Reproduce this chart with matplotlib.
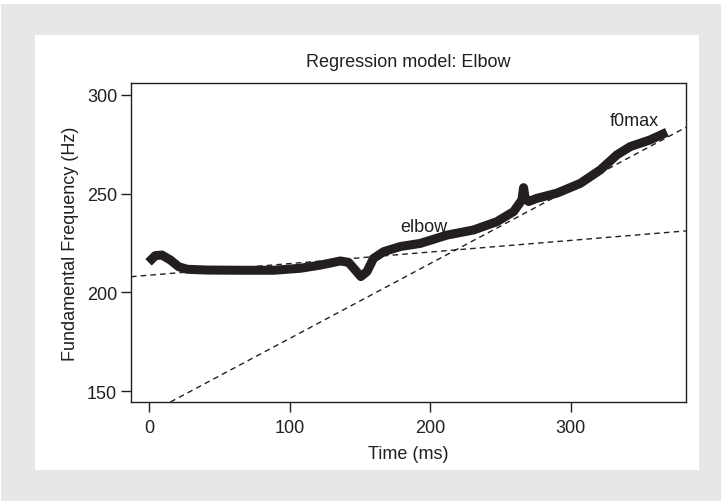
import numpy as np
import matplotlib
matplotlib.use("Agg")
import matplotlib.pyplot as plt
from matplotlib.patches import Rectangle

# f0 contour (ms, Hz)
time_ms = [-0.5, 4.3, 9, 15, 20.9, 26.8, 41, 64.8, 88.5, 107.5, 121.7, 136,
           141.8, 146.6, 150.6, 154.9, 159.6, 166.8, 178.6, 192.9, 211.9,
           230.8, 247.4, 259.3, 265.2, 266.4, 267.5, 270, 275.8, 290, 306.8,
           321, 332.8, 342.3, 356.5, 368.4]
f0_hz = [215.2, 218.6, 218.9, 216.4, 213, 211.7, 211.3, 211.2, 211.2, 212.2,
         213.8, 215.9, 215.2, 211.3, 208, 210.5, 217.2, 220.6, 223.2, 224.8,
         229, 231.6, 235.8, 240.9, 246.8, 253, 248, 246, 247.6, 250.2, 255.2,
         262, 269.6, 273.8, 277.2, 281.1]

# two regression lines of the elbow model: intercept (Hz at 0 ms), slope (Hz/ms)
line_intercepts = [208.7, 138.8]
line_slopes = [0.0587, 0.379]

labels = ["elbow", "f0max"]
label_t = [195.7, 345]
label_f = [233.5, 287.2]

xticks = [0, 100, 200, 300]
yticks = [150, 200, 250, 300]

plt.rcParams["font.family"] = ["Liberation Sans", "DejaVu Sans"]
ink = "#231f20"

fig = plt.figure(figsize=(7.21, 5.02), dpi=100)
fig.patch.set_facecolor("white")
W, H = 721, 502
fig.patches.append(Rectangle((1 / W, 0), 1, 1 - 5 / H, transform=fig.transFigure,
                             facecolor="#e6e7e8", edgecolor="none", zorder=-2))
fig.patches.append(Rectangle((35 / W, 1 - 471 / H), (699 - 35) / W, (471 - 36) / H,
                             transform=fig.transFigure, facecolor="white",
                             edgecolor="none", zorder=-1))

ax = fig.add_axes([131 / W, 1 - 403 / H, (686 - 131) / W, (403 - 84) / H])
ax.set_facecolor("white")

for a, b in zip(line_intercepts, line_slopes):
    ax.axline((0, a), slope=b, color=ink, lw=1.0, ls=(0, (4, 3)))

ax.plot(time_ms, f0_hz, color=ink, lw=6.5, solid_joinstyle="round",
        solid_capstyle="butt", zorder=3)

for s, t, f in zip(labels, label_t, label_f):
    ax.text(t, f, s, ha="center", va="center", fontsize=13, color=ink)

ax.set_xlim(-13, 382)
ax.set_ylim(144.5, 306)
ax.set_xticks(xticks)
ax.set_yticks(yticks)
for sp in ax.spines.values():
    sp.set_color(ink)
    sp.set_linewidth(1.0)
ax.tick_params(direction="out", length=7, width=1.0, color=ink,
               labelsize=13, labelcolor=ink)
ax.tick_params(axis="x", pad=5)
ax.tick_params(axis="y", pad=3)

ax.set_title("Regression model: Elbow", fontsize=13, color=ink, pad=12)
ax.set_xlabel("Time (ms)", fontsize=13, color=ink, labelpad=7)
ax.set_ylabel("Fundamental Frequency (Hz)", fontsize=13, color=ink, labelpad=6)

fig.savefig("out.png", dpi=100)
